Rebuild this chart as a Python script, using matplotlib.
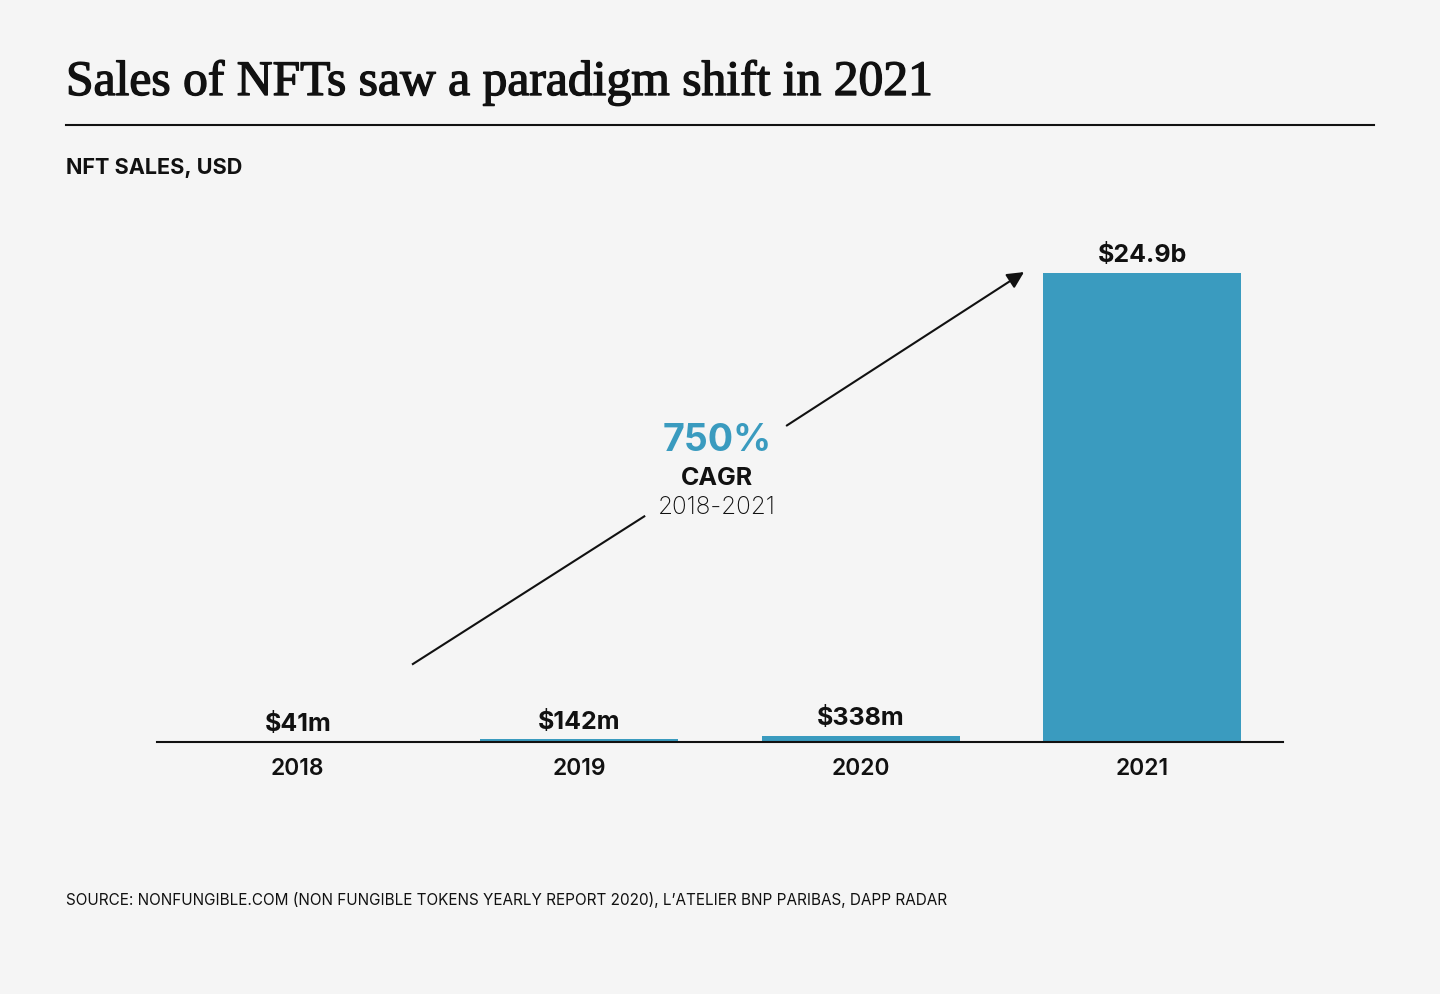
import numpy as np
import matplotlib
matplotlib.use('Agg')
import matplotlib.pyplot as plt
import matplotlib.patheffects as pe

years = ['2018', '2019', '2020', '2021']
sales_bn = [0.041, 0.142, 0.338, 24.9]
value_labels = ['$41m', '$142m', '$338m', '$24.9b']

title = 'Sales of NFTs saw a paradigm shift in 2021'
subtitle = 'NFT SALES, USD'
source = ('SOURCE: NONFUNGIBLE.COM (NON FUNGIBLE TOKENS YEARLY REPORT 2020), '
          'L\u2019ATELIER BNP PARIBAS, DAPP RADAR')
cagr = '750%'

BG = '#f5f5f5'
BAR = '#3a9bbf'
SANS = ['Inter', 'DejaVu Sans']

plt.rcParams['font.family'] = SANS

fig = plt.figure(figsize=(14.4, 9.94), dpi=100, facecolor=BG)

# title block (regular serif, slightly thickened)
fig.text(66 / 1440, 1 - 95 / 994, title, family=['Liberation Serif'], fontsize=35.7,
         color='#111111', va='baseline', ha='left',
         path_effects=[pe.withStroke(linewidth=1.0, foreground='#111111')])
fig.add_artist(plt.Line2D([66 / 1440, 1374 / 1440], [1 - 125 / 994] * 2,
                          color='#111111', lw=1.5))
fig.text(66 / 1440, 1 - 168 / 994, subtitle, fontsize=15.6, fontweight='bold',
         color='#111111', va='center', ha='left')
fig.text(66 / 1440, 1 - 900 / 994, source, fontsize=11, color='#111111',
         va='center', ha='left')

ax = fig.add_axes([157 / 1440, 1 - 742 / 994, (1283 - 157) / 1440, (742 - 220) / 994])
ax.set_facecolor(BG)
x = np.arange(len(years))
ax.bar(x, sales_bn, width=0.705, color=BAR)
ax.set_xlim(-0.5, 3.5)
ax.set_ylim(0, 24.9 * 522 / 469)
for s in ['top', 'right', 'left']:
    ax.spines[s].set_visible(False)
ax.spines['bottom'].set_linewidth(1.5)
ax.spines['bottom'].set_color('#111111')
ax.set_yticks([])
ax.set_xticks(x)
ax.set_xticklabels(years, fontsize=16.5, fontweight='semibold', color='#111111')
ax.tick_params(axis='x', length=0, pad=11.5)

for xi, v, lab in zip(x, sales_bn, value_labels):
    ax.annotate(lab, (xi, v), xytext=(0, 4), textcoords='offset points',
                ha='center', va='bottom', fontsize=18, fontweight='bold', color='#111111')

# CAGR arrow, broken around the label
ax.plot([0.409, 1.231], [4.14, 11.98], color='#111111', lw=1.5)
ax.annotate('', xy=(2.58, 24.95), xytext=(1.737, 16.8),
            arrowprops=dict(arrowstyle='-|>', color='#111111', lw=1.5,
                            mutation_scale=25, shrinkA=0, shrinkB=0))
ax.text(1.49, 16.0, cagr, ha='center', va='center', fontsize=27,
        fontweight='bold', color=BAR)
ax.text(1.49, 14.0, 'CAGR', ha='center', va='center', fontsize=18,
        fontweight='bold', color='#111111')
ax.text(1.49, 12.45, '2018-2021', ha='center', va='center', fontsize=17.5,
        fontweight='light', color='#111111')

fig.savefig('out.png', dpi=100, facecolor=BG)
